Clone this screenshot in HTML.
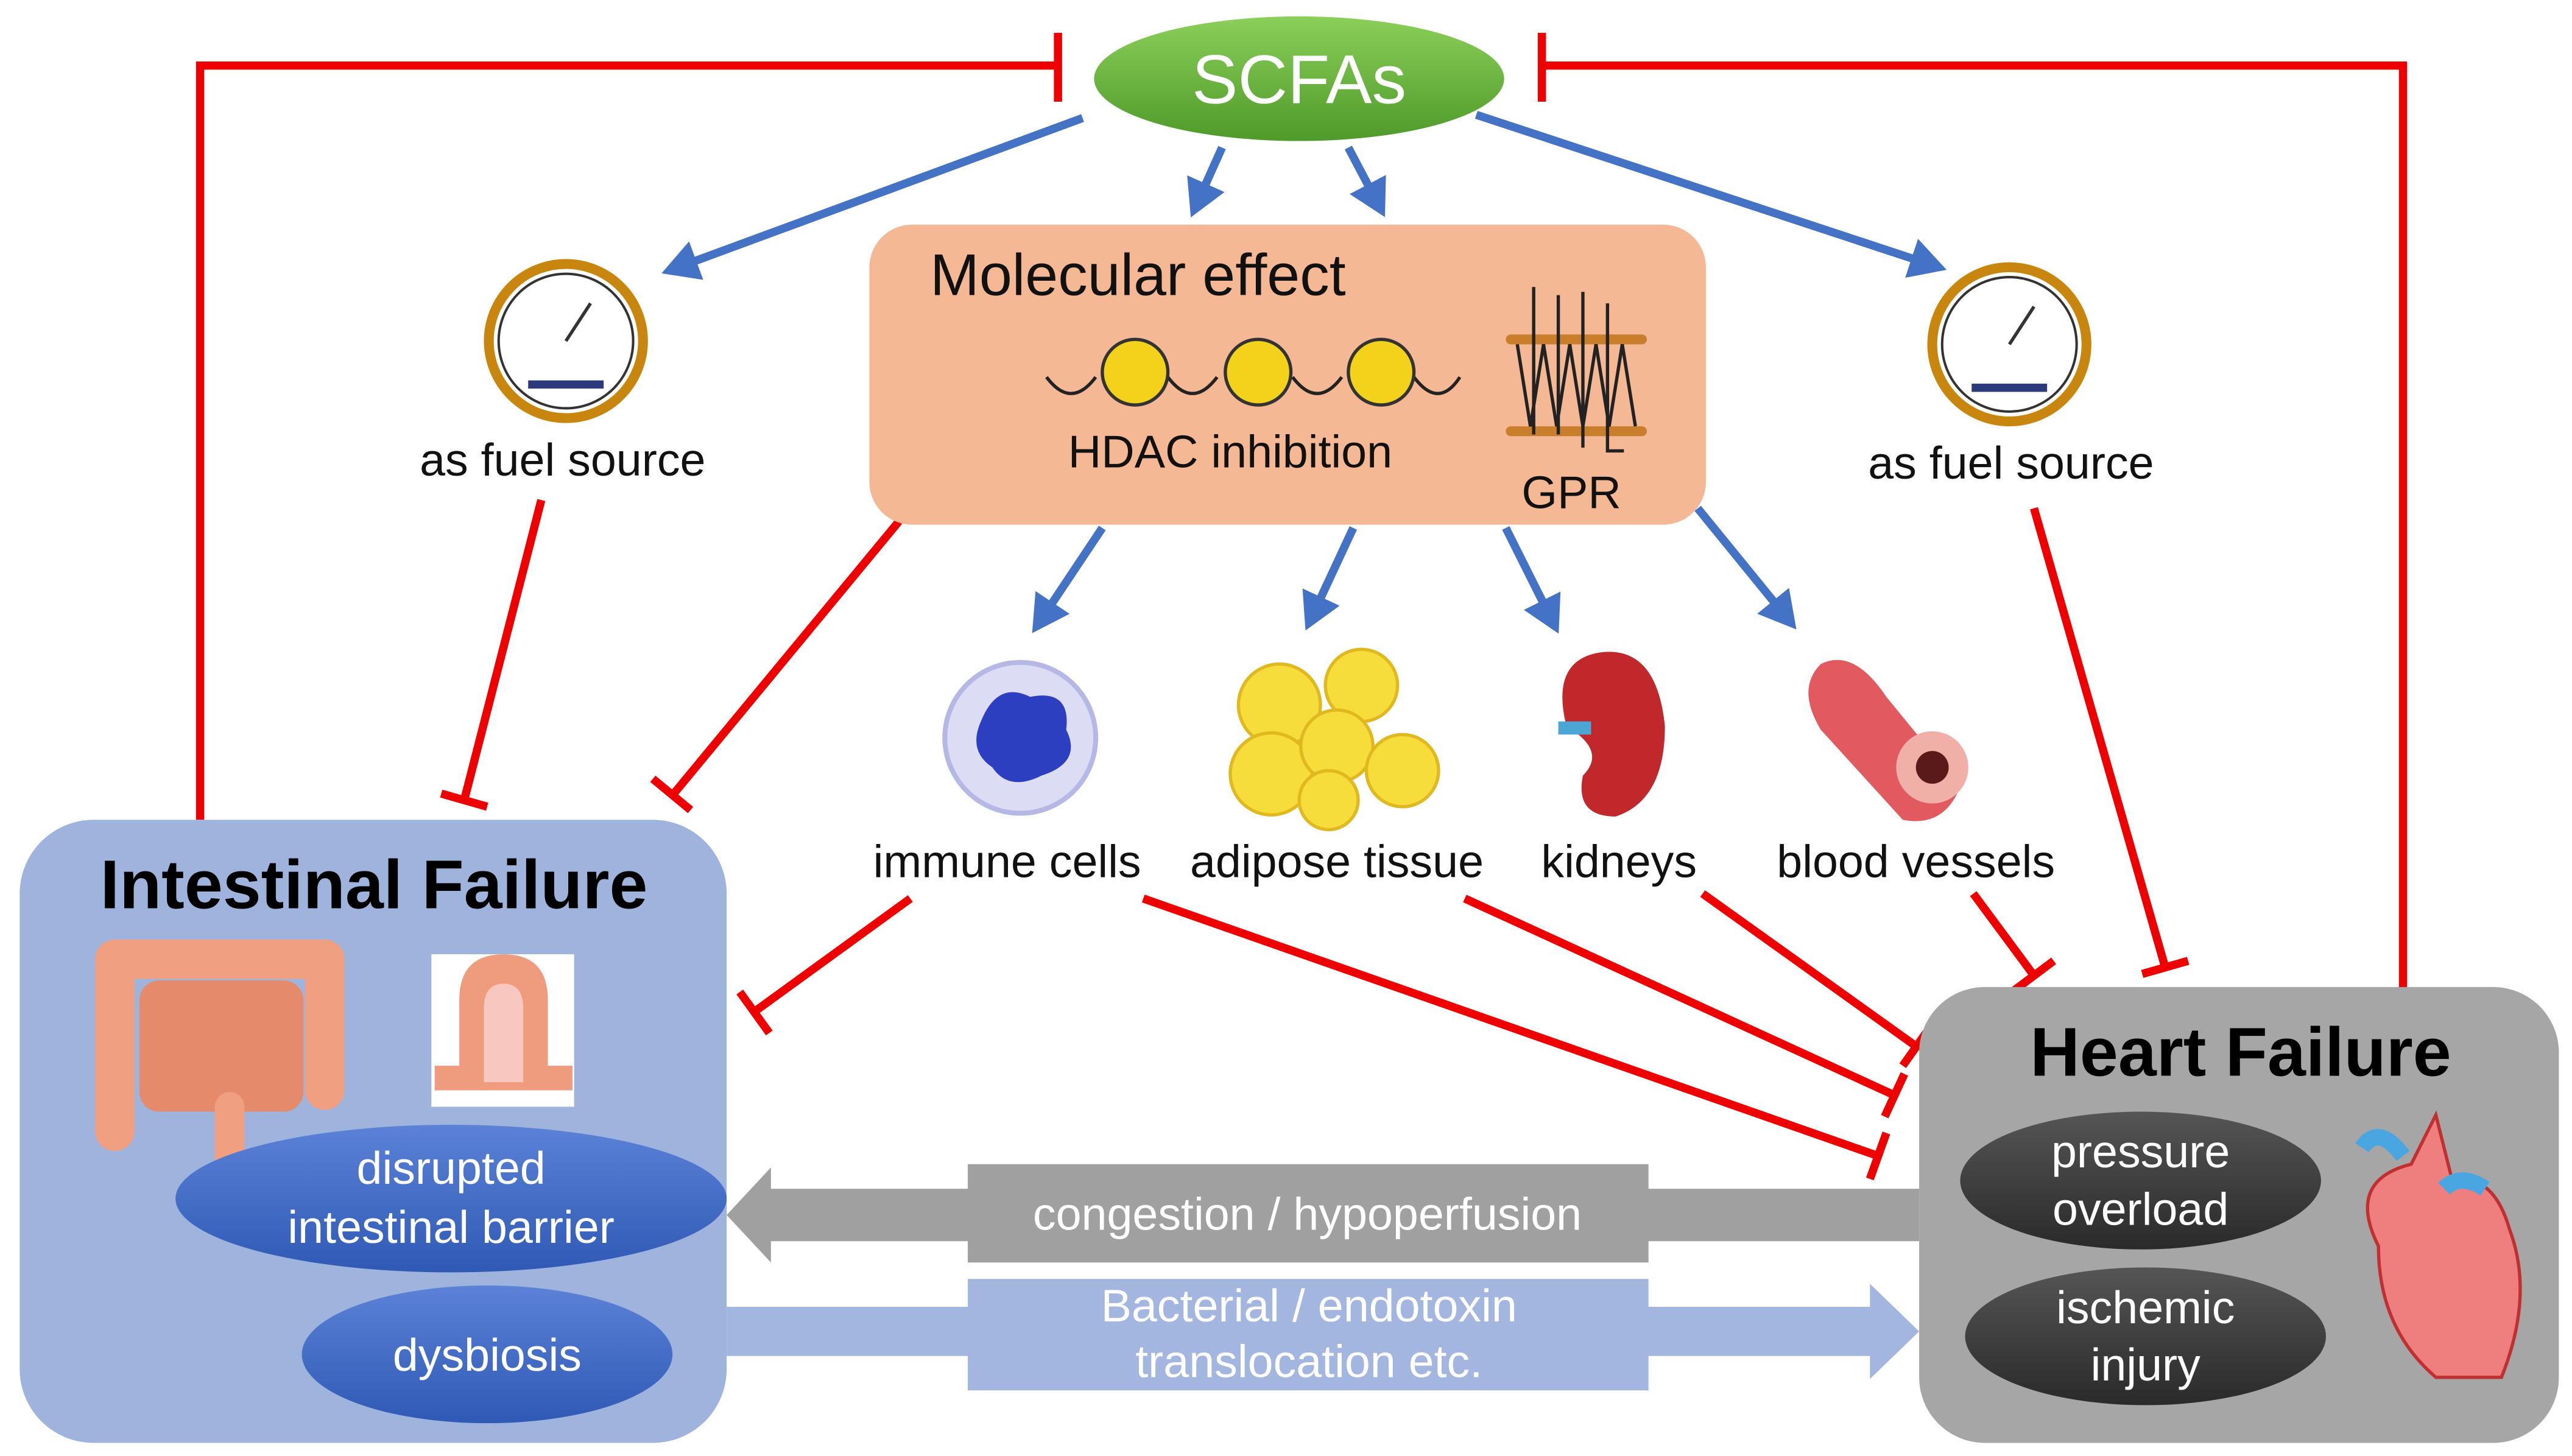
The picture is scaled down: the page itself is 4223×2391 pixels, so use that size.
<!DOCTYPE html>
<html><head><meta charset="utf-8"><style>
html,body{margin:0;padding:0;background:#fff;}
svg{display:block;}
text{font-family:"Liberation Sans",sans-serif;}
</style></head><body>
<svg width="4223" height="2391" viewBox="0 0 1568 888" preserveAspectRatio="none" xmlns="http://www.w3.org/2000/svg">
<defs>
<linearGradient id="g" x1="0" y1="0" x2="0" y2="1"><stop offset="0" stop-color="#8ccf5a"/><stop offset="1" stop-color="#4e9a2a"/></linearGradient>
<linearGradient id="b" x1="0" y1="0" x2="0" y2="1"><stop offset="0" stop-color="#5b82d6"/><stop offset="1" stop-color="#2f59b5"/></linearGradient>
<linearGradient id="d" x1="0" y1="0" x2="0" y2="1"><stop offset="0" stop-color="#555"/><stop offset="1" stop-color="#2a2a2a"/></linearGradient>
<marker id="ah" markerWidth="5" markerHeight="5" refX="3.5" refY="2.5" orient="auto" markerUnits="strokeWidth"><path d="M0,0 L4.5,2.5 L0,5 z" fill="#4472c4"/></marker>
</defs>
<g stroke="#ee0000" stroke-width="5" fill="none">
<polyline points="645,40 122,40 122,500"/><line x1="645" y1="20" x2="645" y2="62"/>
<polyline points="940,40 1465,40 1465,605"/><line x1="940" y1="20" x2="940" y2="62"/>
<line x1="330" y1="305" x2="283" y2="488"/><line x1="269" y1="484" x2="297" y2="492"/>
<line x1="1240" y1="310" x2="1320" y2="590"/><line x1="1306" y1="594" x2="1334" y2="586"/>
<line x1="548" y1="318" x2="410" y2="485"/><line x1="398" y1="475" x2="421" y2="494"/>
<line x1="555" y1="548" x2="460" y2="617"/><line x1="451" y1="605" x2="469" y2="630"/>
<line x1="697" y1="548" x2="1145" y2="705"/><line x1="1150" y1="691" x2="1140" y2="719"/>
<line x1="893" y1="548" x2="1155" y2="668"/><line x1="1161" y1="655" x2="1149" y2="681"/>
<line x1="1038" y1="545" x2="1168" y2="638"/><line x1="1177" y1="626" x2="1160" y2="650"/>
<line x1="1203" y1="545" x2="1240" y2="595"/><line x1="1252" y1="586" x2="1228" y2="604"/>
</g>
<g stroke="#4472c4" stroke-width="5" fill="none" marker-end="url(#ah)">
<line x1="660" y1="72" x2="408" y2="165"/>
<line x1="745" y1="90" x2="728" y2="128"/>
<line x1="822" y1="90" x2="842" y2="128"/>
<line x1="900" y1="70" x2="1182" y2="163"/>
<line x1="672" y1="322" x2="632" y2="382"/>
<line x1="825" y1="322" x2="798" y2="380"/>
<line x1="918" y1="322" x2="948" y2="382"/>
<line x1="1035" y1="310" x2="1092" y2="380"/>
</g>
<ellipse cx="792" cy="48" rx="125" ry="38" fill="url(#g)"/>
<text x="792" y="63" font-size="42" fill="#fff" text-anchor="middle">SCFAs</text>
<rect x="530" y="137" width="510" height="183" rx="26" fill="#f4b994"/>
<text x="567" y="180" font-size="36" fill="#111">Molecular effect</text>
<path d="M638,230 q15,20 30,0 M712,230 q15,20 30,0 M788,230 q15,20 30,0 M862,230 q15,20 28,0" stroke="#222" stroke-width="2" fill="none"/>
<g fill="#f2d21b" stroke="#333" stroke-width="2"><circle cx="692" cy="227" r="20"/><circle cx="767" cy="227" r="20"/><circle cx="842" cy="227" r="20"/></g>
<text x="750" y="285" font-size="28" fill="#111" text-anchor="middle">HDAC inhibition</text>
<g fill="#c87e2a"><rect x="918" y="204" width="86" height="6" rx="3"/><rect x="918" y="260" width="86" height="6" rx="3"/></g>
<path d="M925,210 l8,50 l8,-50 l8,50 l8,-50 l8,50 l8,-50 l8,50 l8,-50 l8,50 M935,175 v90 M950,180 v85 M965,178 v95 M980,185 v90 h10" stroke="#222" stroke-width="2" fill="none"/>
<text x="958" y="310" font-size="28" fill="#111" text-anchor="middle">GPR</text>
<g><circle cx="345" cy="208" r="47" fill="#fff" stroke="#c9860e" stroke-width="6"/><circle cx="345" cy="208" r="41" fill="none" stroke="#333" stroke-width="1.5"/><line x1="345" y1="208" x2="360" y2="185" stroke="#333" stroke-width="2"/><rect x="322" y="232" width="46" height="5" fill="#2a3a7a"/></g>
<g><circle cx="1225" cy="210" r="47" fill="#fff" stroke="#c9860e" stroke-width="6"/><circle cx="1225" cy="210" r="41" fill="none" stroke="#333" stroke-width="1.5"/><line x1="1225" y1="210" x2="1240" y2="187" stroke="#333" stroke-width="2"/><rect x="1202" y="234" width="46" height="5" fill="#2a3a7a"/></g>
<text x="343" y="290" font-size="28" fill="#111" text-anchor="middle">as fuel source</text>
<text x="1226" y="292" font-size="28" fill="#111" text-anchor="middle">as fuel source</text>
<circle cx="622" cy="450" r="46" fill="#dcdcf5" stroke="#b7b7e6" stroke-width="3"/>
<path d="M598,440 q10,-25 30,-15 q25,-5 22,20 q10,20 -15,28 q-20,10 -30,-5 q-15,-10 -7,-28z" fill="#2b3fc0"/>
<g fill="#f7dd3a" stroke="#e0b820" stroke-width="2"><circle cx="780" cy="430" r="25"/><circle cx="830" cy="418" r="22"/><circle cx="775" cy="472" r="25"/><circle cx="815" cy="455" r="22"/><circle cx="855" cy="470" r="22"/><circle cx="810" cy="488" r="18"/></g>
<path d="M975,398 q35,-5 40,45 q0,45 -30,55 q-25,0 -20,-25 q15,-15 -10,-30 q-10,-40 20,-45z" fill="#c0282c"/>
<rect x="950" y="440" width="20" height="8" fill="#4aa6d4"/>
<path d="M1110,405 q20,-10 40,20 l45,55 q-10,25 -35,20 l-50,-55 q-15,-25 0,-40z" fill="#e05a60"/>
<circle cx="1178" cy="468" r="22" fill="#f0b0a8"/><circle cx="1178" cy="468" r="10" fill="#5a1a1a"/>
<text x="614" y="535" font-size="28" fill="#111" text-anchor="middle">immune cells</text>
<text x="815" y="535" font-size="28" fill="#111" text-anchor="middle">adipose tissue</text>
<text x="987" y="535" font-size="28" fill="#111" text-anchor="middle">kidneys</text>
<text x="1168" y="535" font-size="28" fill="#111" text-anchor="middle">blood vessels</text>
<rect x="12" y="500" width="431" height="380" rx="45" fill="#9fb4dd"/>
<text x="228" y="554" font-size="42" font-weight="bold" fill="#000" text-anchor="middle">Intestinal  Failure</text>
<path d="M70,690 V585 H198 V665" stroke="#f0a080" stroke-width="24" fill="none" stroke-linecap="round" stroke-linejoin="round"/>
<rect x="85" y="598" width="100" height="80" rx="12" fill="#e58a6a"/>
<path d="M140,675 V718" stroke="#f0a080" stroke-width="18" fill="none" stroke-linecap="round"/>
<rect x="263" y="582" width="87" height="93" fill="#fff"/>
<path d="M265,665 v-15 h15 v-40 q0,-28 27,-28 q27,0 27,28 v40 h15 v15z" fill="#ef9c7e"/>
<path d="M295,660 v-45 q0,-15 12,-15 q12,0 12,15 v45z" fill="#f8c8c0"/>
<rect x="1170" y="602" width="390" height="278" rx="40" fill="#a6a6a6"/>
<text x="1366" y="656" font-size="42" font-weight="bold" fill="#000" text-anchor="middle">Heart Failure</text>
<path d="M1450,760 q-20,-40 20,-50 l15,-30 l10,40 q25,-5 35,30 q15,40 -5,90 h-40 q-35,-30 -35,-80z" fill="#ef7e7e" stroke="#c03030" stroke-width="2"/>
<path d="M1440,700 q10,-15 25,5 M1490,725 q10,-10 25,0" stroke="#4aa6e0" stroke-width="10" fill="none"/>
<polygon points="443,741 470,712 470,725 590,725 590,710 1005,710 1005,725 1170,725 1170,757 1005,757 1005,770 590,770 590,757 470,757 470,770" fill="#a0a0a0"/>
<text x="797" y="750" font-size="28" fill="#fff" text-anchor="middle">congestion / hypoperfusion</text>
<polygon points="443,797 590,797 590,780 1005,780 1005,797 1140,797 1140,783 1170,812 1140,841 1140,827 1005,827 1005,848 590,848 590,827 443,827" fill="#a3b6e0"/>
<text x="798" y="806" font-size="28" fill="#fff" text-anchor="middle">Bacterial / endotoxin</text>
<text x="798" y="840" font-size="28" fill="#fff" text-anchor="middle">translocation etc.</text>
<ellipse cx="275" cy="731" rx="168" ry="45" fill="url(#b)"/>
<text x="275" y="722" font-size="28" fill="#fff" text-anchor="middle">disrupted</text>
<text x="275" y="758" font-size="28" fill="#fff" text-anchor="middle">intestinal barrier</text>
<ellipse cx="297" cy="826" rx="113" ry="42" fill="url(#b)"/>
<text x="297" y="836" font-size="28" fill="#fff" text-anchor="middle">dysbiosis</text>
<ellipse cx="1305" cy="720" rx="110" ry="42" fill="url(#d)"/>
<text x="1305" y="712" font-size="28" fill="#fff" text-anchor="middle">pressure</text>
<text x="1305" y="747" font-size="28" fill="#fff" text-anchor="middle">overload</text>
<ellipse cx="1308" cy="815" rx="110" ry="42" fill="url(#d)"/>
<text x="1308" y="807" font-size="28" fill="#fff" text-anchor="middle">ischemic</text>
<text x="1308" y="842" font-size="28" fill="#fff" text-anchor="middle">injury</text>
</svg>
</body></html>
